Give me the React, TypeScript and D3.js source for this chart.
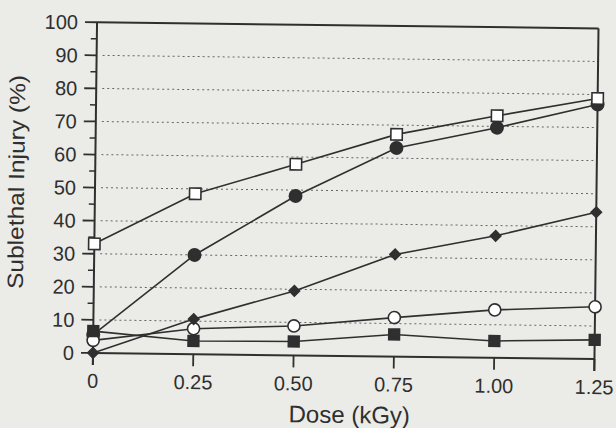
import React from "react";
import * as d3 from "d3";

const doses = [0, 0.25, 0.5, 0.75, 1.0, 1.25];
const doseLabels = ["0", "0.25", "0.50", "0.75", "1.00", "1.25"];
const yTicks = [0, 10, 20, 30, 40, 50, 60, 70, 80, 90, 100];
const yMinorTicks = [5, 15, 25, 35, 45, 55, 65, 75, 85, 95];
const gridValues = [10, 20, 30, 40, 50, 60, 70, 80, 90];

const openSquare = [33, 48.5, 57.8, 67.2, 73.2, 78.8];
const filledCircle = [5.5, 30, 48.2, 63.1, 69.6, 77];
const filledDiamond = [0, 10.6, 19.5, 30.9, 36.9, 44.4];
const openCircle = [3.8, 7.7, 8.9, 11.8, 14.5, 15.8];
const filledSquare = [6.6, 4, 4.2, 6.7, 5.1, 5.8];

const INK = "#2f2f2f";
const BG = "#ebebe8";
const FONT = "'Liberation Sans', Arial, Helvetica, sans-serif";

type Series = { values: number[]; shape: "square" | "circle" | "diamond"; filled: boolean };

const series: Series[] = [
  { values: filledCircle, shape: "circle", filled: true },
  { values: openCircle, shape: "circle", filled: false },
  { values: filledDiamond, shape: "diamond", filled: true },
  { values: openSquare, shape: "square", filled: false },
  { values: filledSquare, shape: "square", filled: true },
];

export default function App() {
  const W = 616;
  const H = 428;
  const x = d3.scaleLinear().domain([0, 1.25]).range([95, 596.5]);
  const y = d3.scaleLinear().domain([0, 100]).range([356, 25.3]);
  const line = d3
    .line<number>()
    .x((_, i) => x(doses[i]))
    .y((v) => y(v));

  const marker = (s: Series, v: number, i: number) => {
    const cx = x(doses[i]);
    const cy = y(v);
    const fill = s.filled ? INK : "#ffffff";
    if (s.shape === "circle") {
      const sym = d3.symbol().type(d3.symbolCircle).size(s.filled ? 120 : 115)();
      return (
        <path key={i} d={sym || ""} transform={`translate(${cx},${cy})`} fill={fill} stroke={INK} strokeWidth={1.6} />
      );
    }
    if (s.shape === "square") {
      const sym = d3.symbolSquare ? d3.symbol().type(d3.symbolSquare).size(s.filled ? 115 : 130)() : "";
      return (
        <path key={i} d={sym || ""} transform={`translate(${cx},${cy})`} fill={fill} stroke={INK} strokeWidth={1.6} />
      );
    }
    const sym = d3.symbol().type(d3.symbolSquare).size(60)();
    return (
      <path key={i} d={sym || ""} transform={`translate(${cx},${cy}) rotate(45)`} fill={fill} stroke={INK} strokeWidth={1.2} />
    );
  };

  return (
    <svg width={W} height={H} style={{ position: "absolute", left: 0, top: 0 }} fontFamily={FONT}>
      <rect x={0} y={0} width={W} height={H} fill={BG} />
      <g transform="rotate(0.7, 345, 190)">
        {/* grid */}
        {gridValues.map((g) => (
          <line key={g} x1={x(0) + 6} x2={x(1.25) - 3} y1={y(g)} y2={y(g)} stroke="#666" strokeWidth={1} strokeDasharray="2,3" />
        ))}
        {/* frame */}
        <line x1={x(0)} x2={x(1.25)} y1={y(100)} y2={y(100)} stroke={INK} strokeWidth={2} />
        <line x1={x(1.25)} x2={x(1.25)} y1={y(100)} y2={y(0) + 12} stroke={INK} strokeWidth={2} />
        <line x1={x(0)} x2={x(0)} y1={y(100)} y2={y(0) + 12} stroke={INK} strokeWidth={2} />
        <line x1={x(0)} x2={x(1.25)} y1={y(0)} y2={y(0)} stroke={INK} strokeWidth={2} />
        {/* y ticks */}
        {yTicks.map((t) => (
          <g key={t}>
            <line x1={x(0) - 12} x2={x(0)} y1={y(t)} y2={y(t)} stroke={INK} strokeWidth={1.8} />
            <text x={x(0) - 19} y={y(t)} dy="0.36em" textAnchor="end" fontSize={20} fill={INK}>
              {t}
            </text>
          </g>
        ))}
        {yMinorTicks.map((t) => (
          <line key={t} x1={x(0) - 6} x2={x(0)} y1={y(t)} y2={y(t)} stroke={INK} strokeWidth={1.5} />
        ))}
        {/* x ticks */}
        {doses.map((d, i) => (
          <g key={d}>
            <line x1={x(d)} x2={x(d)} y1={y(0)} y2={y(0) + 12} stroke={INK} strokeWidth={1.8} />
            <text x={x(d)} y={y(0) + 35} textAnchor="middle" fontSize={20} fill={INK}>
              {doseLabels[i]}
            </text>
          </g>
        ))}
        {/* axis titles */}
        <text x={352} y={423} textAnchor="middle" fontSize={24} fill={INK}>
          Dose (kGy)
        </text>
        <text
          transform="translate(24,186) rotate(-90)"
          textAnchor="middle"
          fontSize={22}
          fill={INK}
          textLength={214}
          lengthAdjust="spacingAndGlyphs"
        >
          Sublethal Injury (%)
        </text>
        {/* series */}
        {series.map((s, k) => (
          <g key={k}>
            <path d={line(s.values) || ""} fill="none" stroke={INK} strokeWidth={1.6} />
          </g>
        ))}
        {series.map((s, k) => (
          <g key={"m" + k}>{s.values.map((v, i) => marker(s, v, i))}</g>
        ))}
      </g>
    </svg>
  );
}
